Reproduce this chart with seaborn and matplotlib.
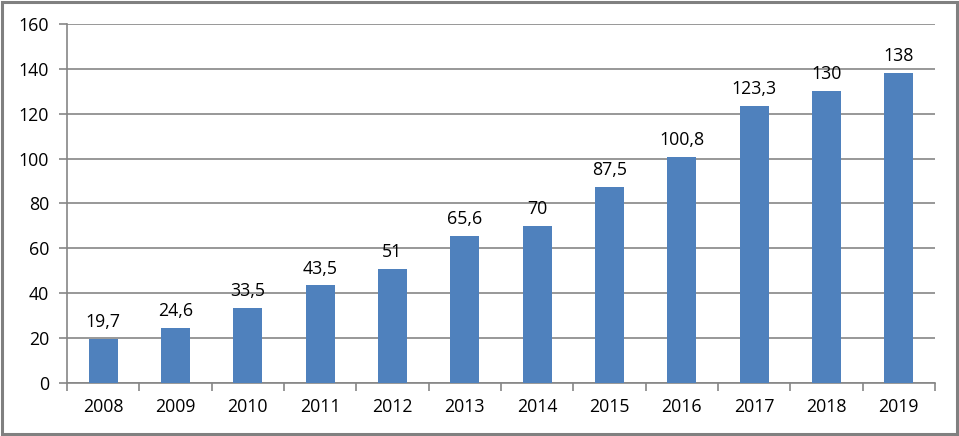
import numpy as np
import pandas as pd
import seaborn as sns
import matplotlib.pyplot as plt
from matplotlib.patches import Rectangle

years = ['2008', '2009', '2010', '2011', '2012', '2013',
         '2014', '2015', '2016', '2017', '2018', '2019']
values = [19.7, 24.6, 33.5, 43.5, 51, 65.6, 70, 87.5, 100.8, 123.3, 130, 138]
labels = ['19,7', '24,6', '33,5', '43,5', '51', '65,6',
          '70', '87,5', '100,8', '123,3', '130', '138']

df = pd.DataFrame({'year': years, 'value': values})

sns.set_theme(style='white')
plt.rcParams['font.family'] = ['Open Sans', 'DejaVu Sans']
fs = 12.8

fig = plt.figure(figsize=(9.59, 4.36), dpi=100)
ax = fig.add_axes([0.0699, 0.1216, 0.905, 0.8234])

sns.barplot(data=df, x='year', y='value', color='#4F81BD', saturation=1,
            width=0.4, linewidth=0, ax=ax, zorder=3)

for i, (v, t) in enumerate(zip(values, labels)):
    ax.text(i, v + 3.5, t, ha='center', va='bottom', fontsize=fs, color='black')

ax.set_ylim(0, 160)
ax.set_xlim(-0.5, 11.5)
ax.set_yticks(np.arange(0, 161, 20))
ax.yaxis.grid(True, color='#868686', linewidth=1.2, zorder=0)
ax.set_axisbelow(True)
ax.set_xlabel('')
ax.set_ylabel('')

for s in ['top', 'right']:
    ax.spines[s].set_visible(False)
for s in ['left', 'bottom']:
    ax.spines[s].set_color('#868686')
    ax.spines[s].set_linewidth(1.2)

ax.tick_params(axis='y', which='major', length=6, width=1.2, color='#868686',
               labelsize=fs, labelcolor='black', left=True, pad=7)
ax.tick_params(axis='x', which='major', length=0, labelsize=fs,
               labelcolor='black', pad=11)
ax.set_xticks(np.arange(-0.5, 12, 1), minor=True)
ax.tick_params(axis='x', which='minor', length=6, width=1.2,
               color='#868686', bottom=True)

fig.patches.append(Rectangle((0.002, 0.004), 0.996, 0.992, transform=fig.transFigure,
                             fill=False, edgecolor='#808080', linewidth=2.2))

fig.savefig('out.png', dpi=100)
